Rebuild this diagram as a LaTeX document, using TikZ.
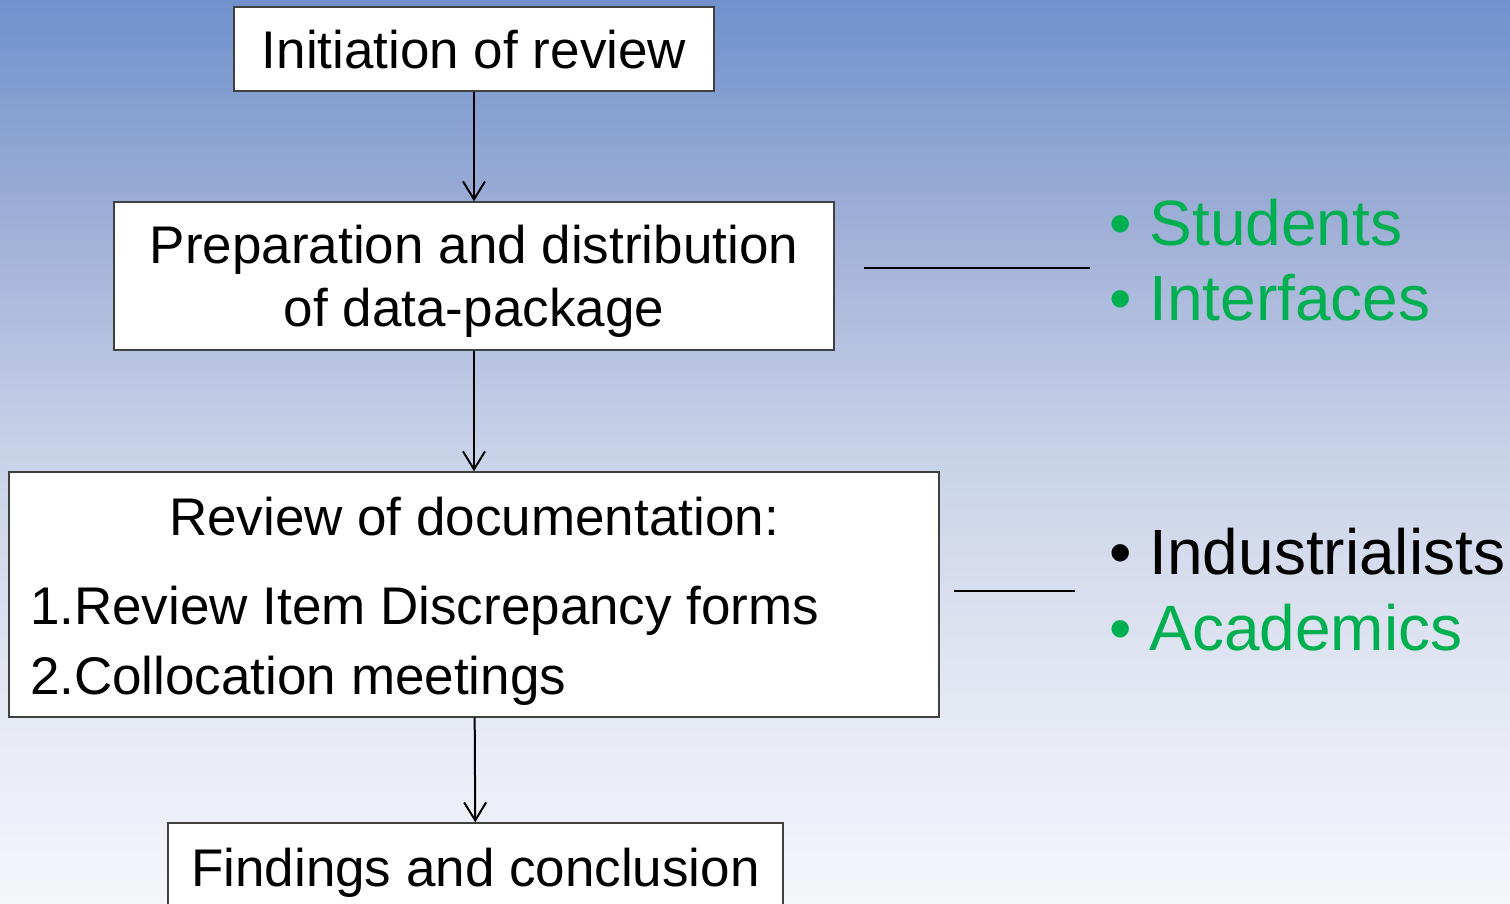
\documentclass[tikz,border=0pt]{standalone}
\usepackage{fontspec}
\setmainfont{Liberation Sans}
\usepackage{tikz}
\usetikzlibrary{arrows.meta}

\definecolor{bulletgreen}{RGB}{0,176,80}
\definecolor{boxline}{RGB}{64,64,64}
\pgfdeclareverticalshading{slidebg}{100bp}{rgb(0bp)=(0.961,0.965,0.98); rgb(25bp)=(0.961,0.965,0.98); rgb(35.7bp)=(0.898,0.914,0.953); rgb(50.1bp)=(0.784,0.824,0.91); rgb(62.3bp)=(0.627,0.69,0.843); rgb(75bp)=(0.439,0.569,0.804); rgb(100bp)=(0.439,0.569,0.804)}

\tikzset{
    stagebox/.style={draw=boxline, line width=0.7pt, fill=white, inner sep=0pt,
        font=\fontsize{26.5pt}{31.5pt}\selectfont},
    flatbox/.style={stagebox, align=center, text depth=0pt},
    bulletitem/.style={anchor=base west, inner sep=0pt, text=bulletgreen,
        font=\fontsize{32pt}{38pt}\selectfont},
    tie/.style={line width=1pt}
}

\begin{document}
\begin{tikzpicture}[x=0.5pt, y=-0.5pt, >={Straight Barb[length=9pt,width=11pt]}]
    % Background of the slide
    \clip (0,0) rectangle (1510,904);
    \shade[shading=slidebg] (0,0) rectangle (1510,904);

    % Define the stages of the review
    \node[flatbox, minimum width=240pt, minimum height=42pt] (init) at (474,49) {Initiation of review};
    \node[flatbox, minimum width=360pt, minimum height=74pt] (prep) at (474,276) {Preparation and distribution\\of data-package};
    \node[stagebox, minimum width=465pt, minimum height=122.5pt, text width=444pt, inner xsep=10.5pt,
        font=\fontsize{26.5pt}{35pt}\selectfont] (review) at (474,594.5)
        {\spaceskip=0pt \xspaceskip=0pt \raggedright
         {\centering\rule{0pt}{26.3pt}Review of documentation:\par}\vspace{9.5pt}1.Review Item Discrepancy forms\\2.Collocation meetings};
    \node[flatbox, minimum width=307.5pt, minimum height=44pt] (findings) at (475.5,867) {Findings and conclusion};

    % Draw arrows between the stages
    \draw[->, line width=1pt] (init) -- (prep);
    \draw[->, line width=1pt] (prep) -- (review);
    \draw[->, line width=1pt] (review) -- (findings);

    % Groups taking part
    \node[bulletitem] (students) at (1109,245) {• Students};
    \node[bulletitem] (interfaces) at (1109,320) {• Interfaces};
    \node[bulletitem, text=black] (industrialists) at (1109,574) {• Industrialists};
    \node[bulletitem] (academics) at (1109,650) {• Academics};

    % Lines tying the groups to the stages
    \coordinate (tieA) at (864,268);
    \coordinate (tieB) at (1090,268);
    \coordinate (tieC) at (954,591);
    \coordinate (tieD) at (1075,591);
    \draw[tie] (tieA) -- (tieB);
    \draw[tie] (tieC) -- (tieD);
\end{tikzpicture}
\end{document}
